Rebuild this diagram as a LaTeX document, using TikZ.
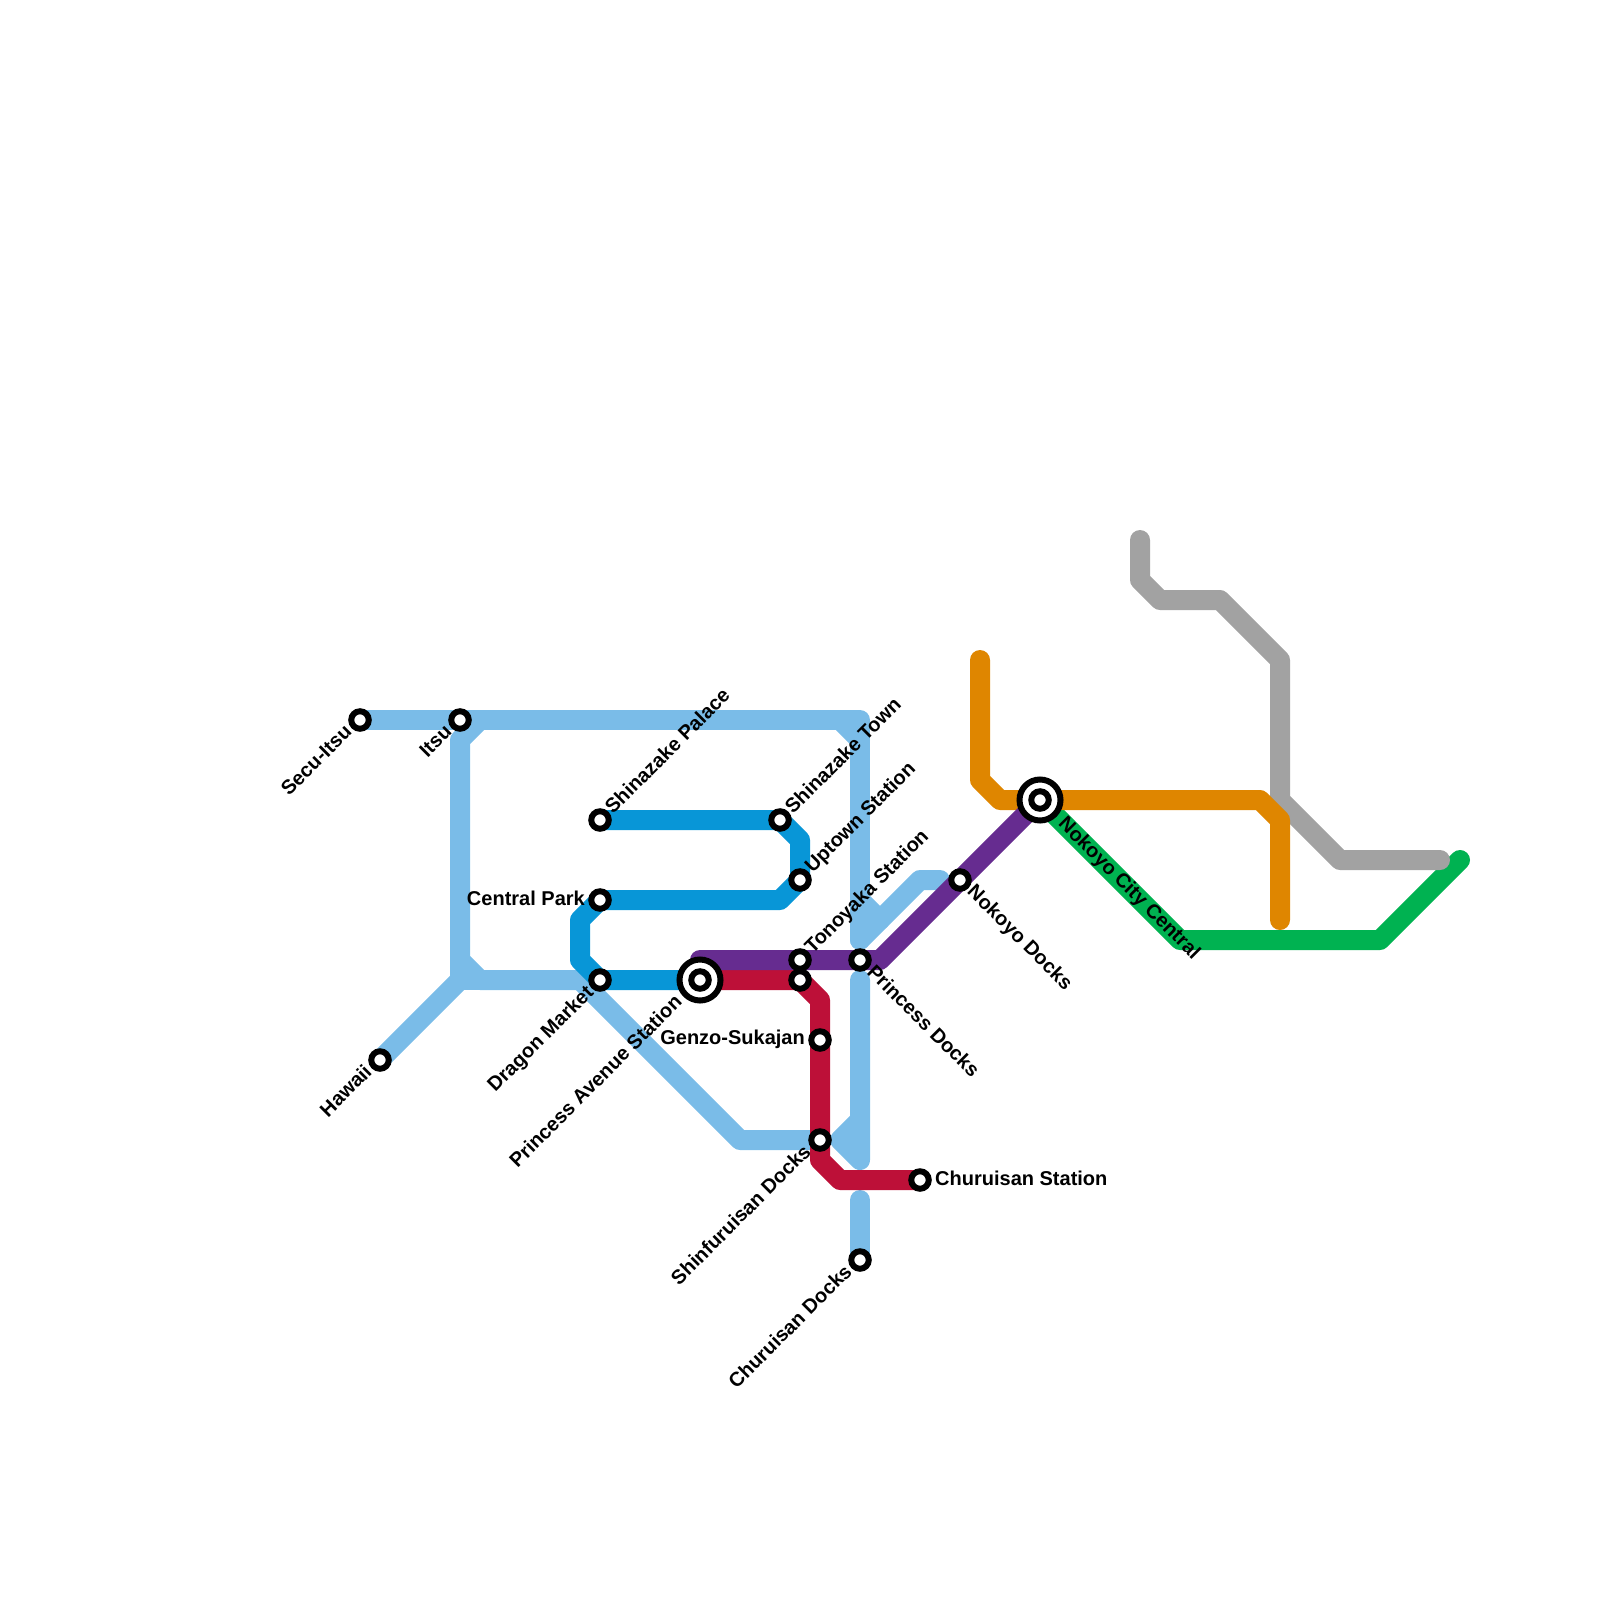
\documentclass[tikz,border=0pt]{standalone}
\usepackage{fontspec}
\setmainfont{Liberation Sans}
\definecolor{lineSky}{HTML}{7ABCE8}
\definecolor{lineBlue}{HTML}{0896D7}
\definecolor{linePurple}{HTML}{662C90}
\definecolor{lineRed}{HTML}{BD1038}
\definecolor{lineOrange}{HTML}{DF8600}
\definecolor{lineGrey}{HTML}{A2A2A2}
\definecolor{lineGreen}{HTML}{00B251}
\tikzset{
    metro/.style={line width=20pt,line cap=round,line join=round},
    halt/.style={circle,draw=black,fill=white,line width=6pt,minimum size=17.5pt,inner sep=0pt,outer sep=0pt},
    hub/.style={circle,draw=black,fill=white,line width=6pt,minimum size=41pt,inner sep=0pt,outer sep=0pt},
    stop/.style={font=\bfseries\fontsize{20}{22}\selectfont,inner sep=0pt}
}

\begin{document}
\begin{tikzpicture}[x=1pt,y=-1pt]
    \useasboundingbox (0,0) rectangle (1600,1600);
    % stations
    \def\rowA{720}
    \def\rowB{820}
    \def\rowC{900}
    \def\rowD{960}
    \def\rowE{980}
    \coordinate (secuPt) at (360,\rowA);
    \coordinate (itsuPt) at (460,\rowA);
    \coordinate (hawaiiPt) at (380,1060);
    \coordinate (palacePt) at (600,\rowB);
    \coordinate (townPt) at (780,\rowB);
    \coordinate (uptownPt) at (800,880);
    \coordinate (parkPt) at (600,\rowC);
    \coordinate (marketPt) at (600,\rowE);
    \coordinate (avenuePt) at (700,\rowE);
    \coordinate (tonoyakaPt) at (800,\rowD);
    \coordinate (crossPt) at (800,\rowE);
    \coordinate (princessPt) at (860,\rowD);
    \coordinate (nokoyoPt) at (960,880);
    \coordinate (centralPt) at (1040,800);
    \coordinate (genzoPt) at (820,1040);
    \coordinate (shinfuPt) at (820,1140);
    \coordinate (churuiPt) at (920,1180);
    \coordinate (docksPt) at (860,1260);
    % lines
    \draw[metro,lineSky] (secuPt) -- (860,\rowA) -- (860,940);
    \draw[metro,lineSky] (840,\rowA) -- (860,740);
    \draw[metro,lineSky] (860,900) -- (880,920);
    \draw[metro,lineSky] (860,940) -- (920,880) -- (940,880);
    \draw[metro,lineSky] (480,\rowA) -- (460,740) -- (460,\rowD) -- (480,\rowE) -- (580,\rowE) -- (740,1140) -- (shinfuPt);
    \draw[metro,lineSky] (460,\rowE) -- (hawaiiPt);
    \draw[metro,lineSky] (460,\rowD) -- (460,\rowE) -- (480,\rowE);
    \draw[metro,lineSky] (860,1120) -- (840,1140) -- (860,1160) -- (860,\rowE);
    \draw[metro,lineSky] (860,1200) -- (docksPt);
    \draw[metro,lineBlue] (palacePt) -- (townPt) -- (800,840) -- (uptownPt) -- (780,\rowC) -- (parkPt) -- (580,920) -- (580,\rowD) -- (marketPt) -- (avenuePt);
    \draw[metro,lineGreen] (centralPt) -- (1180,940) -- (1380,940) -- (1460,860);
    \draw[metro,lineGrey] (1140,540) -- (1140,580) -- (1160,600) -- (1220,600) -- (1280,660) -- (1280,800) -- (1340,860) -- (1440,860);
    \draw[metro,lineOrange] (980,660) -- (980,780) -- (1000,800) -- (1260,800) -- (1280,820) -- (1280,920);
    \draw[metro,lineRed] (avenuePt) -- (crossPt) -- (820,1000) -- (shinfuPt) -- (820,1160) -- (840,1180) -- (churuiPt);
    \draw[metro,linePurple] (700,\rowD) -- (880,\rowD) -- (centralPt);
    % station marks
    \node[halt] (secu) at (secuPt) {};
    \node[halt] (itsu) at (itsuPt) {};
    \node[halt] (hawaii) at (hawaiiPt) {};
    \node[halt] (palace) at (palacePt) {};
    \node[halt] (town) at (townPt) {};
    \node[halt] (uptown) at (uptownPt) {};
    \node[halt] (park) at (parkPt) {};
    \node[halt] (market) at (marketPt) {};
    \node[hub] (avenueRing) at (avenuePt) {};
    \node[halt] (avenue) at (avenuePt) {};
    \node[halt] (tonoyaka) at (tonoyakaPt) {};
    \node[halt] (cross) at (crossPt) {};
    \node[halt] (princess) at (princessPt) {};
    \node[halt] (nokoyo) at (nokoyoPt) {};
    \node[hub] (centralRing) at (centralPt) {};
    \node[halt] (central) at (centralPt) {};
    \node[halt] (genzo) at (genzoPt) {};
    \node[halt] (shinfu) at (shinfuPt) {};
    \node[halt] (churui) at (churuiPt) {};
    \node[halt] (docks) at (docksPt) {};
    % labels
    \node[stop,rotate=45,anchor=east] at (348,728) {Secu-Itsu};
    \node[stop,rotate=45,anchor=east] at (448,728) {Itsu};
    \node[stop,rotate=45,anchor=east] at (368,1068) {Hawaii};
    \node[stop,rotate=45,anchor=west] at (608,810) {Shinazake Palace};
    \node[stop,rotate=45,anchor=west] at (788,810) {Shinazake Town};
    \node[stop,rotate=45,anchor=west] at (809,870) {Uptown Station};
    \node[stop,anchor=east] at (585,898) {Central Park};
    \node[stop,rotate=45,anchor=east] at (591,990) {Dragon Market};
    \node[stop,rotate=45,anchor=east] at (678,998) {Princess Avenue Station};
    \node[stop,rotate=45,anchor=west] at (809,951) {Tonoyaka Station};
    \node[stop,rotate=-45,anchor=west] at (871,968) {Princess Docks};
    \node[stop,rotate=-45,anchor=west] at (970,889) {Nokoyo Docks};
    \node[stop,rotate=-45,anchor=west] at (1061,821) {Nokoyo City Central};
    \node[stop,anchor=east] at (805,1039) {Genzo-Sukajan};
    \node[stop,rotate=45,anchor=east] at (807,1148) {Shinfuruisan Docks};
    \node[stop,anchor=west] at (935,1178) {Churuisan Station};
    \node[stop,rotate=45,anchor=east] at (848,1268) {Churuisan Docks};
\end{tikzpicture}
\end{document}
